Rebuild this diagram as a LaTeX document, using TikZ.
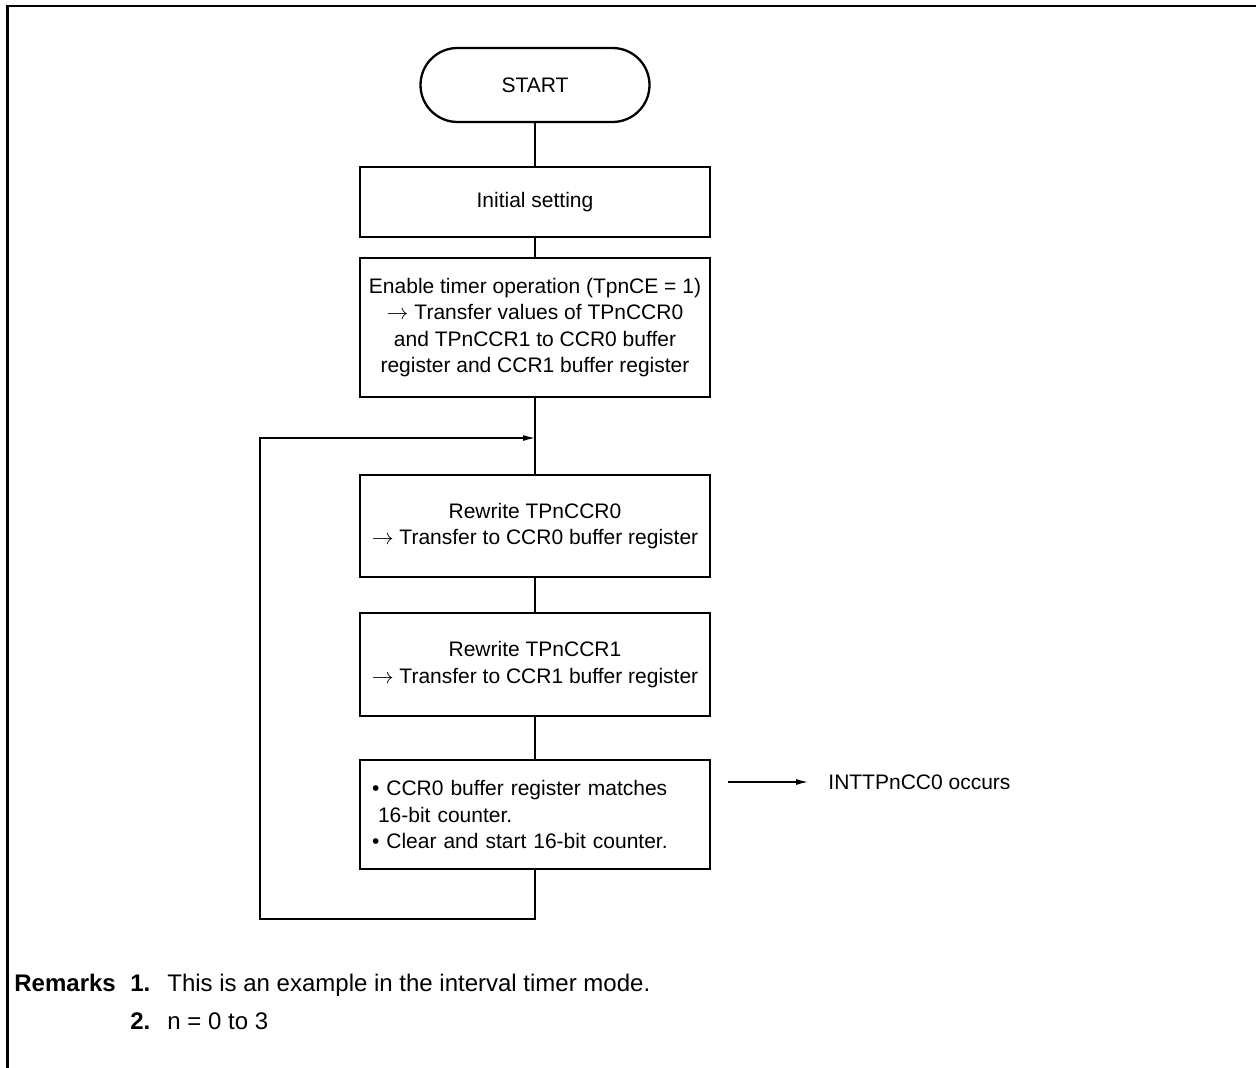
\documentclass[tikz,border=0pt]{standalone}
\usepackage{fontspec}
\setmainfont{Liberation Sans}
\usetikzlibrary{shapes.misc,arrows.meta}
\begin{document}
\begin{tikzpicture}[x=0.5pt,y=-0.5pt,
  box/.style={draw,line width=1.15pt,minimum width=175pt,inner sep=0pt,align=center,font=\fontsize{10.5}{13.3}\selectfont},
  link/.style={line width=0.6pt},
  tip/.style={-{Latex[length=6pt,width=3pt]}},
  lbl/.style={inner sep=0pt,anchor=base west,font=\fontsize{12}{14}\selectfont},
  blbl/.style={lbl,font=\fontsize{12}{14}\selectfont\bfseries}]
\useasboundingbox (0,0) rectangle (1256,1068);
% frame (top and left only)
\draw[line width=1.35pt] (1256,6) -- (7.5,6) -- (7.5,1068);
% flow nodes
\node[box,rounded rectangle,minimum width=114.5pt,minimum height=37pt] (start) at (535,85) {START};
\node[box,minimum height=35pt] (init) at (535,202) {Initial setting};
\node[box,minimum height=69.5pt] (enable) at (535,327.5) {Enable timer operation (TpnCE = 1)\\ $\rightarrow$ Transfer values of TPnCCR0\\ and TPnCCR1 to CCR0 buffer\\ register and CCR1 buffer register};
\node[box,minimum height=51pt] (r0) at (535,526) {Rewrite TPnCCR0\\ $\rightarrow$ Transfer to CCR0 buffer register};
\node[box,minimum height=51.5pt] (r1) at (535,664.5) {Rewrite TPnCCR1\\ $\rightarrow$ Transfer to CCR1 buffer register};
\node[box,minimum height=54.5pt,text width=163pt,inner xsep=6pt,align=left] (ccr) at (535,814.5) {\textbullet\ CCR0 buffer register matches\\ \hspace*{3pt}16-bit counter.\\ \textbullet\ Clear and start 16-bit counter.};
\node[inner sep=0pt,inner xsep=10pt,anchor=west,font=\fontsize{10.5}{13.3}\selectfont] (int) at (808,782) {INTTPnCC0 occurs};
% coordinates
\coordinate (join) at (535,438);
\coordinate (lc) at (260,919);
\coordinate (lt) at (260,438);
\coordinate (intsrc) at (728,782);
% connectors
\draw[link] (start.south) -- (init.north);
\draw[link] (init.south) -- (enable.north);
\draw[link] (enable.south) -- (r0.north);
\draw[link] (r0.south) -- (r1.north);
\draw[link] (r1.south) -- (ccr.north);
\draw[link,tip] (ccr.south) |- (lc) -- (lt) -- (join);
\draw[link,tip] (intsrc) -- (int.west);
% remarks
\node[blbl] (rem) at (14,991) {Remarks};
\node[blbl] (n1) at (130,991) {1.};
\node[lbl] (t1) at (167,991) {This is an example in the interval timer mode.};
\node[blbl] (n2) at (130,1029) {2.};
\node[lbl] (t2) at (167,1029) {n = 0 to 3};
\end{tikzpicture}
\end{document}
